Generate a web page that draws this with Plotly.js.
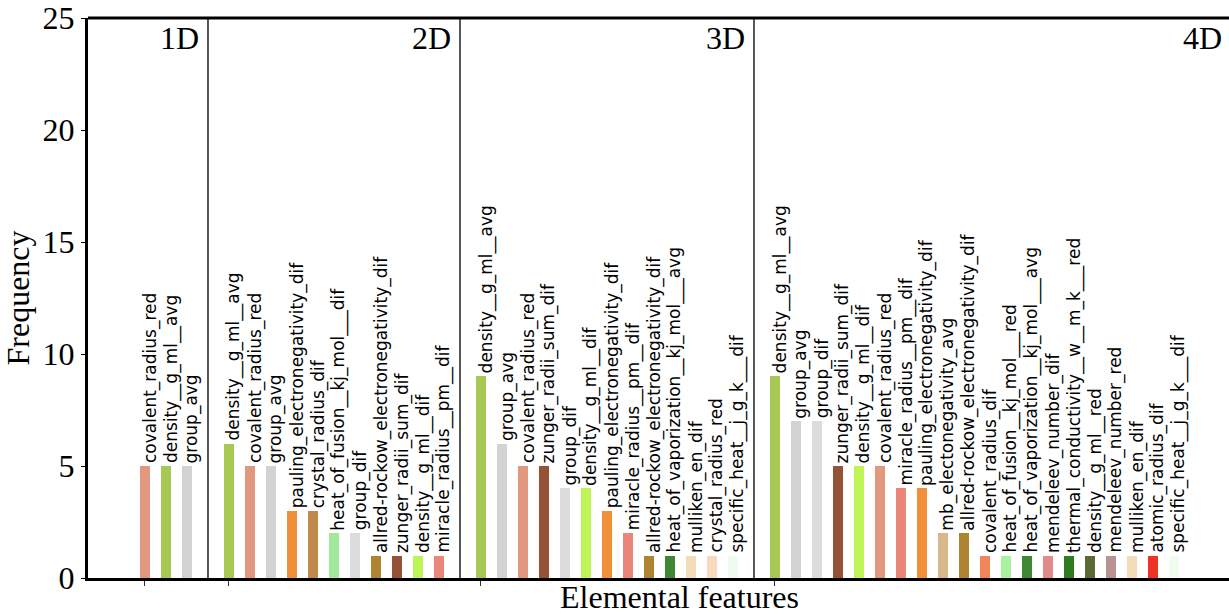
<!DOCTYPE html>
<html>
<head>
<meta charset="utf-8">
<script src="https://cdn.plot.ly/plotly-3.0.1.min.js"></script>
<style>html,body{margin:0;padding:0;background:#fff}#chart{width:1229px;height:614px}</style>
</head>
<body>
<div id="chart"></div>
<script>
// ---- data ----
const groupNames = ['1D', '2D', '3D', '4D'];

const features1D = ['covalent_radius_red', 'density__g_ml__avg', 'group_avg'];
const freq1D = [5, 5, 5];

const features2D = ['density__g_ml__avg', 'covalent_radius_red', 'group_avg', 'pauling_electronegativity_dif',
  'crystal_radius_dif', 'heat_of_fusion__kj_mol___dif', 'group_dif', 'allred-rockow_electronegativity_dif',
  'zunger_radii_sum_dif', 'density__g_ml__dif', 'miracle_radius__pm__dif'];
const freq2D = [6, 5, 5, 3, 3, 2, 2, 1, 1, 1, 1];

const features3D = ['density__g_ml__avg', 'group_avg', 'covalent_radius_red', 'zunger_radii_sum_dif', 'group_dif',
  'density__g_ml__dif', 'pauling_electronegativity_dif', 'miracle_radius__pm__dif',
  'allred-rockow_electronegativity_dif', 'heat_of_vaporization__kj_mol___avg', 'mulliken_en_dif',
  'crystal_radius_red', 'specific_heat__j_g_k___dif'];
const freq3D = [9, 6, 5, 5, 4, 4, 3, 2, 1, 1, 1, 1, 1];

const features4D = ['density__g_ml__avg', 'group_avg', 'group_dif', 'zunger_radii_sum_dif', 'density__g_ml__dif',
  'covalent_radius_red', 'miracle_radius__pm__dif', 'pauling_electronegativity_dif', 'mb_electonegativity_avg',
  'allred-rockow_electronegativity_dif', 'covalent_radius_dif', 'heat_of_fusion__kj_mol___red',
  'heat_of_vaporization__kj_mol___avg', 'mendeleev_number_dif', 'thermal_conductivity__w__m_k___red',
  'density__g_ml__red', 'mendeleev_number_red', 'mulliken_en_dif', 'atomic_radius_dif', 'specific_heat__j_g_k___dif'];
const freq4D = [9, 7, 7, 5, 5, 5, 4, 4, 2, 2, 1, 1, 1, 1, 1, 1, 1, 1, 1, 1];

const yTicks = [0, 5, 10, 15, 20, 25];

// ---- styles ----
const featureColors = {
  'covalent_radius_red': '#E0987E',
  'density__g_ml__avg': '#A7C853',
  'group_avg': '#D3D3D3',
  'group_dif': '#DCDCDC',
  'pauling_electronegativity_dif': '#F0913A',
  'crystal_radius_dif': '#C3884C',
  'heat_of_fusion__kj_mol___dif': '#A3E99B',
  'allred-rockow_electronegativity_dif': '#AF8430',
  'zunger_radii_sum_dif': '#955236',
  'density__g_ml__dif': '#BEF456',
  'miracle_radius__pm__dif': '#EA877A',
  'heat_of_vaporization__kj_mol___avg': '#3F8833',
  'mulliken_en_dif': '#F2DDB8',
  'crystal_radius_red': '#F8D9BD',
  'specific_heat__j_g_k___dif': '#F0FCEF',
  'mb_electonegativity_avg': '#D8B88A',
  'covalent_radius_dif': '#F0865A',
  'heat_of_fusion__kj_mol___red': '#A8F2A0',
  'mendeleev_number_dif': '#E38A8A',
  'thermal_conductivity__w__m_k___red': '#2E7B22',
  'density__g_ml__red': '#586B35',
  'mendeleev_number_red': '#B89292',
  'atomic_radius_dif': '#EE3426'
};

const groupFeatures = [features1D, features2D, features3D, features4D];
const groupFreqs = [freq1D, freq2D, freq3D, freq4D];

const serif = 'Liberation Serif, Times New Roman, serif';
const sans = 'DejaVu Sans, sans-serif';

const traces = [];
const annotations = [];
const shapes = [];
const firstBarPos = [];
let start = 0;
groupFeatures.forEach((feats, g) => {
  const vals = groupFreqs[g];
  const xs = feats.map((_, i) => start + i);
  firstBarPos.push(start);
  traces.push({
    type: 'bar',
    x: xs,
    y: vals,
    width: 0.48,
    marker: {color: feats.map(f => featureColors[f]), line: {width: 0}},
    hoverinfo: 'skip',
    showlegend: false
  });
  feats.forEach((f, i) => {
    annotations.push({
      x: xs[i], y: vals[i], xref: 'x', yref: 'y',
      text: f, showarrow: false, textangle: -90,
      xanchor: 'center', yanchor: 'bottom', xshift: 5, yshift: 1,
      font: {family: sans, size: 17, color: '#000'}
    });
  });
  const boundary = start + feats.length;
  if (g < groupFeatures.length - 1) {
    shapes.push({type: 'line', xref: 'x', yref: 'y', x0: boundary, x1: boundary, y0: 0, y1: 25,
      line: {color: '#444', width: 1.8}});
    annotations.push({x: boundary, y: 1, xref: 'x', yref: 'paper', text: groupNames[g], showarrow: false,
      xanchor: 'right', yanchor: 'top', xshift: -7, yshift: 0,
      font: {family: serif, size: 32, color: '#000'}});
  } else {
    annotations.push({x: 1, y: 1, xref: 'paper', yref: 'paper', text: groupNames[g], showarrow: false,
      xanchor: 'right', yanchor: 'top', xshift: -5, yshift: 0,
      font: {family: serif, size: 32, color: '#000'}});
  }
  start = boundary + 1;
});

// top border
shapes.push({type: 'line', xref: 'paper', yref: 'paper', x0: 0, x1: 1, y0: 1, y1: 1,
  line: {color: '#000', width: 3}});

annotations.push({x: 0.518, y: 0, xref: 'paper', yref: 'paper', text: 'Elemental features',
  showarrow: false, xanchor: 'center', yanchor: 'top', yshift: 1,
  font: {family: serif, size: 32, color: '#000'}});

const layout = {
  width: 1229, height: 614,
  margin: {l: 88, r: 0, t: 18, b: 36},
  paper_bgcolor: '#fff', plot_bgcolor: '#fff',
  bargap: 0,
  xaxis: {
    range: [-2.714, 51.62], showgrid: false, zeroline: false,
    showline: true, linecolor: '#000', linewidth: 3,
    tickvals: firstBarPos, ticktext: firstBarPos.map(() => ''),
    ticks: 'outside', ticklen: 5, tickwidth: 1, tickcolor: '#333'
  },
  yaxis: {
    range: [0, 25], showgrid: false, zeroline: false,
    showline: true, linecolor: '#000', linewidth: 3,
    tickvals: yTicks, ticks: 'outside', ticklen: 4, tickwidth: 1, tickcolor: '#000',
    tickfont: {family: serif, size: 32, color: '#000'},
    title: {text: 'Frequency', font: {family: serif, size: 32, color: '#000'}, standoff: 12}
  },
  shapes: shapes,
  annotations: annotations
};

Plotly.newPlot('chart', traces, layout, {displayModeBar: false, staticPlot: true});
</script>
</body>
</html>
